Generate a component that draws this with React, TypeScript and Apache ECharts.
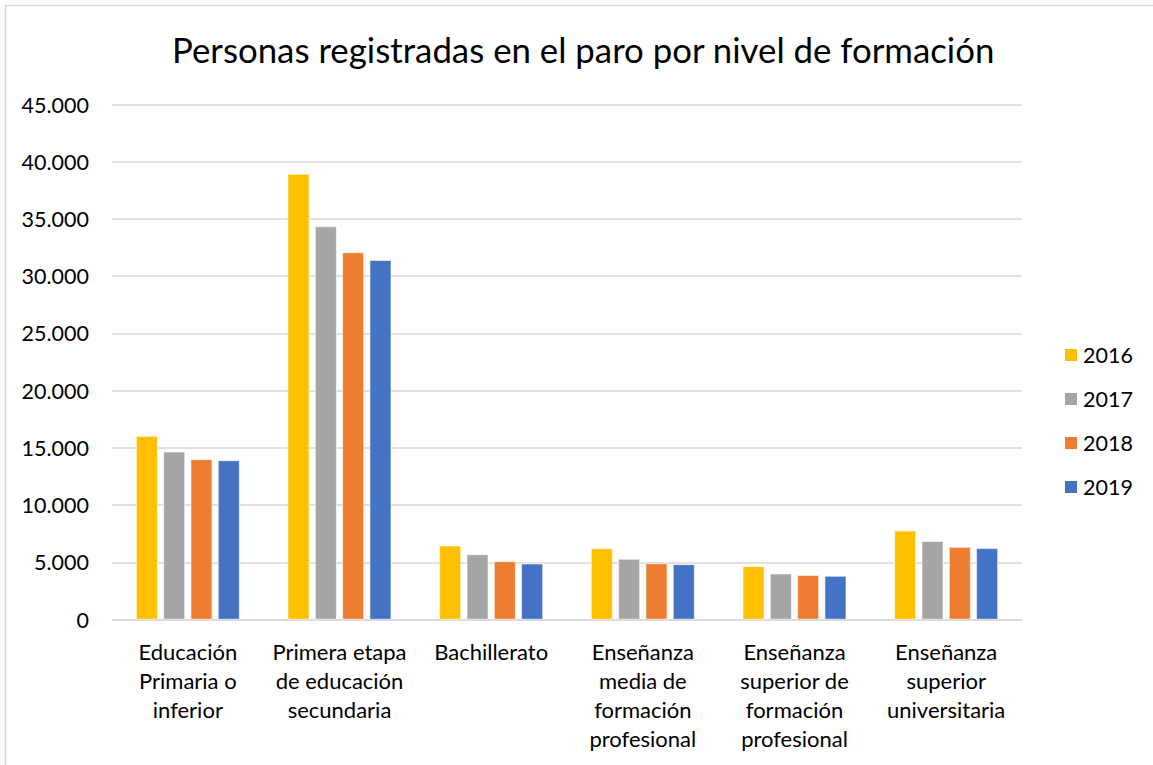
import React, { useEffect, useRef } from "react";
import * as echarts from "echarts";

const categories = [
  "Educación\nPrimaria o\ninferior",
  "Primera etapa\nde educación\nsecundaria",
  "Bachillerato",
  "Enseñanza\nmedia de\nformación\nprofesional",
  "Enseñanza\nsuperior de\nformación\nprofesional",
  "Enseñanza\nsuperior\nuniversitaria",
];
const years = ["2016", "2017", "2018", "2019"];
const v2016 = [16030, 38930, 6450, 6210, 4640, 7760];
const v2017 = [14660, 34340, 5690, 5290, 4000, 6850];
const v2018 = [13990, 32070, 5080, 4900, 3880, 6330];
const v2019 = [13900, 31400, 4880, 4820, 3800, 6220];
const colors = ["#FFC000", "#A5A5A5", "#ED7D31", "#4472C4"];
const yTicks = [0, 5000, 10000, 15000, 20000, 25000, 30000, 35000, 40000, 45000];

const FONT = "Lato, 'Open Sans', sans-serif";

function fmt(v: number): string {
  return String(v).replace(/\B(?=(\d{3})+(?!\d))/g, ".");
}

export default function App() {
  const ref = useRef<HTMLDivElement>(null);
  useEffect(() => {
    if (!ref.current) return;
    const chart = echarts.init(ref.current, undefined, { renderer: "svg" });
    const all = [v2016, v2017, v2018, v2019];
    chart.setOption({
      animation: false,
      backgroundColor: "#fff",
      textStyle: { fontFamily: FONT },
      title: {
        text: "Personas registradas en el paro por nivel de formación",
        left: 167,
        top: 27,
        textStyle: { fontFamily: FONT, fontSize: 34.8, fontWeight: "normal", color: "#000" },
      },
      graphic: [
        {
          type: "rect",
          shape: { x: 5.5, y: 5.5, width: 1170, height: 800 },
          style: { fill: "none", stroke: "#d9d9d9", lineWidth: 1.5 },
          silent: true,
        },
      ],
      legend: {
        orient: "vertical",
        left: 1058,
        top: 339,
        itemWidth: 14,
        itemHeight: 14,
        itemGap: 22,
        icon: "rect",
        textStyle: { fontFamily: FONT, fontSize: 21.5, color: "#000" },
        data: years,
      },
      grid: { left: 112, right: 1153 - 1022, top: 104.5, bottom: 765 - 619.5, containLabel: false },
      xAxis: {
        type: "category",
        data: categories,
        axisTick: { show: false },
        axisLine: { show: true, lineStyle: { color: "#d9d9d9", width: 1.5 } },
        axisLabel: {
          interval: 0,
          fontFamily: FONT,
          fontSize: 22,
          color: "#000",
          lineHeight: 29,
          margin: 17,
          align: "center",
        },
      },
      yAxis: {
        type: "value",
        min: 0,
        max: 45000,
        interval: 5000,
        axisLine: { show: false },
        axisTick: { show: false },
        splitLine: { lineStyle: { color: "#d9d9d9", width: 1.5 } },
        axisLabel: {
          fontFamily: FONT,
          fontSize: 21.5,
          color: "#000",
          margin: 23,
          formatter: (v: number) => (yTicks.includes(v) ? fmt(v) : ""),
        },
      },
      series: years.map((y, i) => ({
        name: y,
        type: "bar",
        data: all[i],
        barGap: "26%",
        barCategoryGap: "31.7%",
        itemStyle: { color: colors[i], borderColor: "#ffffff", borderWidth: 0.6 },
      })),
    });
    return () => chart.dispose();
  }, []);
  return (
    <div
      ref={ref}
      style={{ position: "absolute", left: 0, top: 0, width: 1153, height: 765 }}
    />
  );
}
